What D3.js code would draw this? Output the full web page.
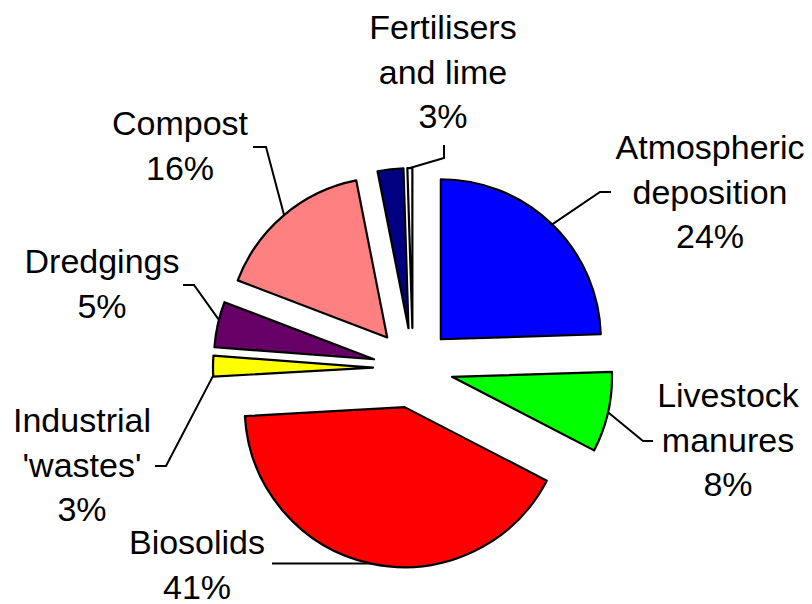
<!DOCTYPE html>
<html>
<head>
<meta charset="utf-8">
<script src="https://cdn.jsdelivr.net/npm/d3@7"></script>
<style>
  html, body { margin: 0; padding: 0; background: #fff; }
  svg { display: block; }
  text { font-family: "Liberation Sans", Arial, sans-serif; font-size: 34px; fill: #000; }
</style>
</head>
<body>
<svg id="chart" width="812" height="604"></svg>
<script>
// ---- Data ----
const categories = ["Atmospheric deposition", "Livestock manures", "Biosolids", "Industrial 'wastes'", "Dredgings", "Compost", "Fertilisers", "Lime"];
const values = [24.5, 8.1, 41.5, 2.1, 4.6, 16.1, 2.6, 0.5];
const colors = ["#0000FF", "#00FF00", "#FF0000", "#FFFF00", "#660066", "#FF8080", "#000080", "#FFFFFF"];
const labelTexts = [
  ["Atmospheric", "deposition", "24%"],
  ["Livestock", "manures", "8%"],
  ["Biosolids", "41%"],
  ["Industrial", "'wastes'", "3%"],
  ["Dredgings", "5%"],
  ["Compost", "16%"],
  null,
  ["Fertilisers", "and lime", "3%"]
];

// ---- Layout ----
const cx = 413, cy = 368, R = 160, explode = 40;
const lineH = 44.5;
// label center x, first baseline y, hook points (label side), anchor fraction along slice
const labelLayout = [
  { x: 710, y: 159, hook: [[611, 192], [600, 192]], frac: 0.5 },
  { x: 728, y: 407, hook: [[653, 441], [643, 441]], frac: 0.5 },
  { x: 197, y: 554, hook: [[272, 567], [282, 567]], frac: 0.5, flat: true },
  { x: 82,  y: 432, hook: [[155, 466], [166, 466]], frac: 0.05 },
  { x: 102, y: 273, hook: [[183, 285], [194, 285]], frac: 0.6 },
  { x: 180, y: 135, hook: [[253, 147], [266, 147]], frac: 0.5 },
  null,
  { x: 443, y: 39,  hook: [[444, 145], [444, 158]], frac: 0.5 }
];

const svg = d3.select("#chart");
const pie = d3.pie().sort(null).value(d => d).startAngle(0).endAngle(2 * Math.PI);
const arcs = pie(values);
const arcGen = d3.arc().innerRadius(0).outerRadius(R);

const g = svg.append("g");

arcs.forEach((a, i) => {
  const mid = (a.startAngle + a.endAngle) / 2;
  const ox = cx + explode * Math.sin(mid);
  const oy = cy - explode * Math.cos(mid);
  g.append("path")
    .attr("d", arcGen(a))
    .attr("transform", `translate(${ox},${oy})`)
    .attr("fill", colors[i])
    .attr("stroke", "#000")
    .attr("stroke-width", 2.2)
    .attr("stroke-linejoin", "round");

  const L = labelLayout[i];
  if (!L) return;
  const ang = a.startAngle + (a.endAngle - a.startAngle) * L.frac;
  const ax = ox + R * Math.sin(ang);
  const ay = oy - R * Math.cos(ang);
  const pts = L.hook.map(p => p.slice());
  if (L.flat) { pts.forEach(p => p[1] = ay); }
  pts.push([ax, ay]);
  g.append("path")
    .attr("d", d3.line()(pts))
    .attr("fill", "none")
    .attr("stroke", "#000")
    .attr("stroke-width", 2);

  const t = svg.append("text").attr("text-anchor", "middle");
  labelTexts[i].forEach((s, k) => {
    t.append("tspan").attr("x", L.x).attr("y", L.y + k * lineH).text(s);
  });
});
</script>
</body>
</html>
